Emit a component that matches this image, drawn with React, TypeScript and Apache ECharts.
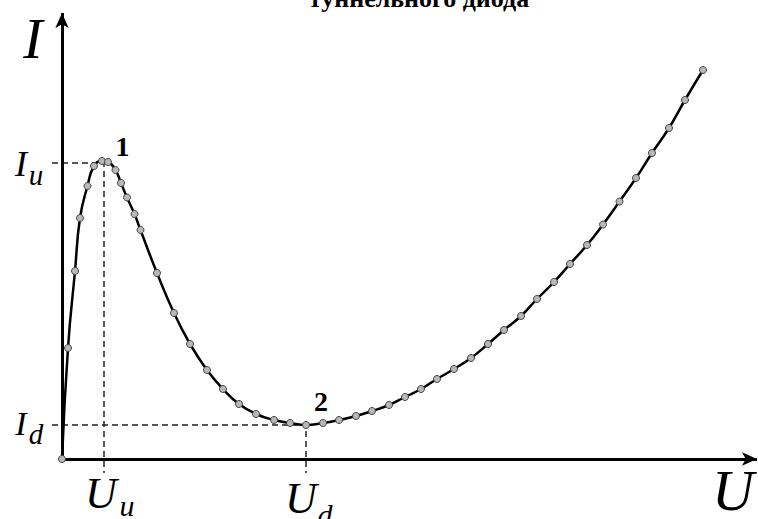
import React, { useEffect, useRef } from "react";
import * as echarts from "echarts";

// Voltage U and current I (arbitrary units)
const voltage = [0, 6, 13, 18, 25.5, 32, 40, 46, 53.5, 59, 65, 72.5, 78.5, 95, 112, 128, 145, 161, 177, 194, 212, 228, 244, 261, 277, 294, 310, 327, 343, 359, 375, 392, 409, 426, 442, 459, 475, 492, 508, 525, 541, 557.5, 574, 590, 607, 623, 641];
const current = [0, 111, 188, 241, 273, 293, 298, 297, 289, 276, 261.5, 245, 229, 186, 146, 115, 89, 70, 55, 45, 39, 36, 34, 36, 39, 43, 48, 54, 62, 70, 80, 90, 101, 115, 129, 143, 160, 177, 195, 214, 234.5, 257.5, 281, 306, 331, 359, 389];

const peak = [42, 296]; // point 1 (U_u, I_u)
const valley = [244, 34]; // point 2 (U_d, I_d)
const axisMin = [-10, -14];
const axisEnd = [695, 446];

const serif = "Liberation Serif";

export default function App() {
  const ref = useRef<HTMLDivElement>(null);
  useEffect(() => {
    if (!ref.current) return;
    const chart = echarts.init(ref.current, undefined, { renderer: "svg" });
    const curve = voltage.map((u, i) => [u, current[i]]);
    const dash = { type: [6, 4] as any, width: 1.5, color: "#222" };
    const txt = (
      text: string,
      x: number,
      y: number,
      size: number,
      opts: any = {}
    ) => ({
      type: "text",
      x,
      y,
      z: 100,
      style: {
        text,
        fontFamily: serif,
        fontSize: size,
        fontStyle: opts.bold ? "normal" : "italic",
        fontWeight: opts.bold ? "bold" : "normal",
        fill: "#000",
        align: "center",
        verticalAlign: "middle",
      },
    });
    chart.setOption({
      animation: false,
      grid: { left: 52, right: 0, top: 13, bottom: 46 },
      xAxis: { type: "value", min: axisMin[0], max: 696, show: false },
      yAxis: { type: "value", min: axisMin[1], max: axisEnd[1], show: false },
      series: [
        {
          type: "line",
          data: [
            [axisMin[0], peak[1]],
            [peak[0], peak[1]],
            [peak[0], axisMin[1]],
          ],
          symbol: "none",
          lineStyle: dash,
          silent: true,
          z: 1,
        },
        {
          type: "line",
          data: [
            [axisMin[0], valley[1]],
            [valley[0], valley[1]],
            [valley[0], axisMin[1]],
          ],
          symbol: "none",
          lineStyle: dash,
          silent: true,
          z: 1,
          markLine: {
            silent: true,
            symbol: ["none", "arrow"],
            symbolSize: [10, 15],
            label: { show: false },
            lineStyle: { color: "#000", width: 3, type: "solid" },
            data: [
              [{ coord: [0, 0] }, { coord: [axisEnd[0], 0] }],
              [{ coord: [0, 0] }, { coord: [0, axisEnd[1]] }],
            ],
          },
        },
        {
          type: "line",
          data: curve,
          smooth: true,
          symbol: "circle",
          symbolSize: 7,
          z: 5,
          lineStyle: { color: "#000", width: 2.5 },
          itemStyle: { color: "#b8b8b8", borderColor: "#444", borderWidth: 1 },
        },
      ],
      graphic: [
        txt("туннельного диода", 419, -1.5, 26, { bold: true }),
        txt("I", 33, 38, 58),
        txt("I", 21, 164, 36),
        txt("u", 36, 175, 29),
        txt("I", 21, 423, 34),
        txt("d", 36, 434, 29),
        txt("U", 101, 493, 44),
        txt("u", 127, 505, 30),
        txt("U", 301, 498, 44),
        txt("d", 325, 514, 30),
        txt("U", 733, 490, 58),
        txt("1", 122.5, 146.5, 28, { bold: true }),
        txt("2", 321, 401, 28, { bold: true }),
      ],
    });
    return () => chart.dispose();
  }, []);
  return (
    <div
      ref={ref}
      style={{ position: "absolute", left: 0, top: 0, width: 758, height: 519 }}
    />
  );
}
